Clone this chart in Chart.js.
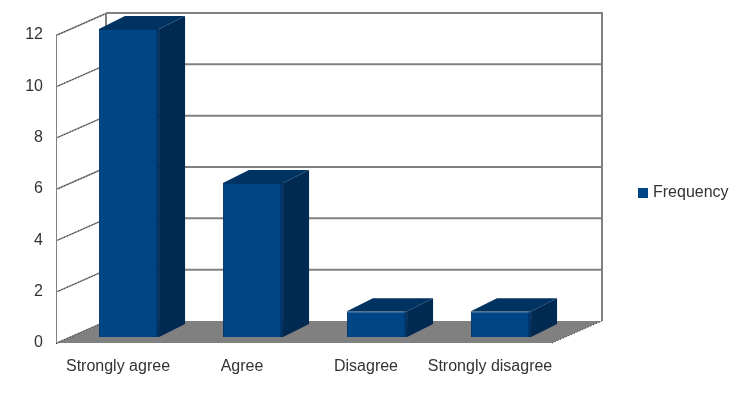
<!DOCTYPE html>
<html>
<head>
<meta charset="utf-8">
<script src="https://cdn.jsdelivr.net/npm/chart.js@4.4.0/dist/chart.umd.min.js"></script>
<style>
  html, body { margin: 0; padding: 0; background: #ffffff; }
  #wrap { width: 736px; height: 397px; }
</style>
</head>
<body>
<div id="wrap"><canvas id="c" width="736" height="397"></canvas></div>
<script>
// ---- data ----
const categories = ['Strongly agree', 'Agree', 'Disagree', 'Strongly disagree'];
const frequency = [12, 6, 1, 1];
const seriesLabel = 'Frequency';
const yMin = 0;
const yMax = 12;
const yStep = 2;

// ---- styling / 3D geometry ----
const FONT = '"Liberation Sans", Arial, sans-serif';
const FRONT = '#004586';
const SIDE = '#002a52';
const TOP = '#003262';
const GRID = '#808080';
const WALL_DX = 50, WALL_DY = -22;      // depth of the back wall
const BAR_DX = 11, BAR_DY = -6;         // bar front-face offset from front plane
const BAR_DEPTH_DX = 26, BAR_DEPTH_DY = -13; // bar depth

const threeD = {
  id: 'threeD',
  beforeDatasetsDraw(chart) {
    const { ctx, chartArea: { left, right, top, bottom }, scales: { y } } = chart;
    ctx.save();
    // floor
    const y0 = y.getPixelForValue(yMin);
    ctx.fillStyle = GRID;
    ctx.beginPath();
    ctx.moveTo(left, y0);
    ctx.lineTo(right, y0);
    ctx.lineTo(right + WALL_DX, y0 + WALL_DY);
    ctx.lineTo(left + WALL_DX, y0 + WALL_DY);
    ctx.closePath();
    ctx.fill();

    // back wall grid lines + left wall diagonals
    y.ticks.forEach(t => {
      const py = y.getPixelForValue(t.value);
      if (t.value !== yMin) {
        ctx.strokeStyle = GRID;
        ctx.lineWidth = 2;
        ctx.beginPath();
        ctx.moveTo(left + WALL_DX, py + WALL_DY);
        ctx.lineTo(right + WALL_DX, py + WALL_DY);
        ctx.stroke();
      }
      ctx.lineWidth = 1.5;
      ctx.strokeStyle = '#8a8a8a';
      ctx.beginPath();
      ctx.moveTo(left, py + 0.5);
      ctx.lineTo(left + WALL_DX, py + WALL_DY + 0.5);
      ctx.stroke();
      ctx.lineWidth = 1;
      ctx.strokeStyle = '#222';
      ctx.setLineDash([1, 2]);
      ctx.beginPath();
      ctx.moveTo(left, py + 0.5);
      ctx.lineTo(left + WALL_DX, py + WALL_DY + 0.5);
      ctx.stroke();
      ctx.setLineDash([]);
    });

    // back wall verticals
    ctx.strokeStyle = GRID;
    ctx.lineWidth = 2;
    ctx.beginPath();
    ctx.moveTo(left + WALL_DX, top + WALL_DY);
    ctx.lineTo(left + WALL_DX, bottom + WALL_DY);
    ctx.moveTo(right + WALL_DX, top + WALL_DY - 1);
    ctx.lineTo(right + WALL_DX, bottom + WALL_DY);
    ctx.stroke();

    // front axis line
    ctx.lineWidth = 1;
    ctx.strokeStyle = GRID;
    ctx.beginPath();
    ctx.moveTo(left + 0.5, top);
    ctx.lineTo(left + 0.5, bottom);
    ctx.stroke();

    // floor right edge (dotted)
    ctx.strokeStyle = '#222';
    ctx.setLineDash([1, 2]);
    ctx.beginPath();
    ctx.moveTo(right, y0);
    ctx.lineTo(right + WALL_DX, y0 + WALL_DY);
    ctx.stroke();
    ctx.setLineDash([]);
    ctx.restore();
  },
  beforeDatasetDraw(chart) {
    chart.ctx.save();
    chart.ctx.translate(BAR_DX, BAR_DY);
  },
  afterDatasetDraw(chart, args) {
    const ctx = chart.ctx;
    const meta = chart.getDatasetMeta(args.index);
    meta.data.forEach(el => {
      const { x, y, base, width } = el.getProps(['x', 'y', 'base', 'width'], true);
      const l = x - width / 2, r = x + width / 2;
      // side face
      ctx.fillStyle = SIDE;
      ctx.beginPath();
      ctx.moveTo(r, y);
      ctx.lineTo(r + BAR_DEPTH_DX, y + BAR_DEPTH_DY);
      ctx.lineTo(r + BAR_DEPTH_DX, base + BAR_DEPTH_DY);
      ctx.lineTo(r, base);
      ctx.closePath();
      ctx.fill();
      // top face
      ctx.fillStyle = TOP;
      ctx.beginPath();
      ctx.moveTo(l, y);
      ctx.lineTo(l + BAR_DEPTH_DX, y + BAR_DEPTH_DY);
      ctx.lineTo(r + BAR_DEPTH_DX, y + BAR_DEPTH_DY);
      ctx.lineTo(r, y);
      ctx.closePath();
      ctx.fill();
      // subtle shade at right of front face
      ctx.fillStyle = 'rgba(0,30,70,0.35)';
      ctx.fillRect(r - 3, y, 3, base - y);
    });
    ctx.restore();
  },
  afterDraw(chart) {
    const { ctx } = chart;
    const ds = chart.data.datasets[0];
    ctx.save();
    ctx.fillStyle = ds.backgroundColor;
    ctx.fillRect(638, 188, 10, 10);
    ctx.fillStyle = '#333333';
    ctx.font = '16px ' + FONT;
    ctx.textBaseline = 'middle';
    ctx.textAlign = 'left';
    ctx.fillText(ds.label, 653, 193);
    ctx.restore();
  }
};

new Chart(document.getElementById('c'), {
  type: 'bar',
  data: {
    labels: categories,
    datasets: [{
      label: seriesLabel,
      data: frequency,
      backgroundColor: FRONT,
      borderColor: '#003366',
      borderWidth: 1,
      categoryPercentage: 1,
      barPercentage: 0.485
    }]
  },
  options: {
    responsive: false,
    animation: false,
    devicePixelRatio: 1,
    layout: { padding: { left: 0, right: 184, top: 35, bottom: 0 } },
    plugins: { legend: { display: false }, tooltip: { enabled: false } },
    scales: {
      x: {
        grid: { display: false, drawTicks: false },
        border: { display: false },
        ticks: { color: '#333333', font: { size: 16, family: FONT }, padding: 14, maxRotation: 0, autoSkip: false },
        afterFit(s) { s.height = 54; }
      },
      y: {
        min: yMin, max: yMax,
        grid: { display: false, drawTicks: false },
        border: { display: false },
        ticks: { stepSize: yStep, color: '#333333', font: { size: 16, family: FONT }, padding: 13 },
        afterFit(s) { s.width = 56; }
      }
    }
  },
  plugins: [threeD]
});
</script>
</body>
</html>
